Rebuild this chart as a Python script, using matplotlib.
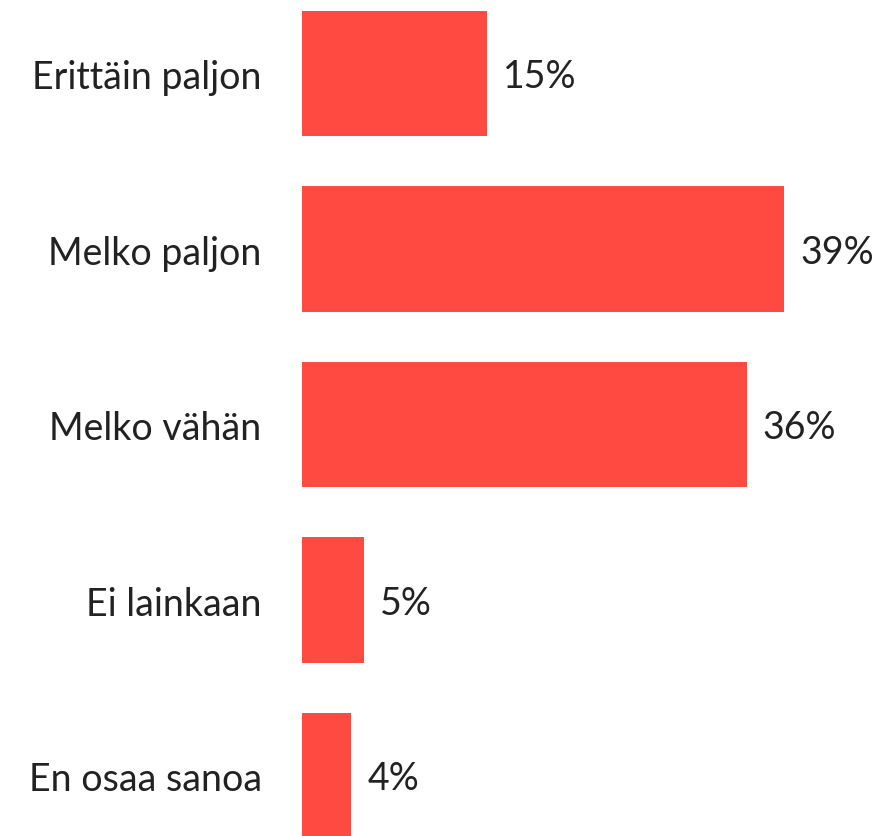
import matplotlib
matplotlib.use('Agg')
import matplotlib.pyplot as plt

categories = ['Erittäin paljon', 'Melko paljon', 'Melko vähän', 'Ei lainkaan', 'En osaa sanoa']
values = [15, 39, 36, 5, 4]
labels = ['15%', '39%', '36%', '5%', '4%']

W, H = 879, 837
fig = plt.figure(figsize=(W / 100, H / 100), dpi=100)
left_px = 302
px_per_pct = 12.36
ax = fig.add_axes([left_px / W, 0, 1 - left_px / W, 1])

pos = list(range(len(categories)))
ax.barh(pos, values, height=0.715, color='#FF4A42')
ax.set_xlim(0, (W - left_px) / px_per_pct)
ax.set_ylim(4.3447, -0.4245)

ax.set_yticks(pos)
ax.set_yticklabels(categories, fontsize=27, color='#222222', family='Lato')
ax.tick_params(axis='y', length=0, pad=29)
ax.set_xticks([])
for s in ax.spines.values():
    s.set_visible(False)

for p, v, lab in zip(pos, values, labels):
    ax.annotate(lab, (v, p), xytext=(11.5, -2), textcoords='offset points',
                va='center', ha='left', fontsize=27, color='#222222', family='Lato')

fig.savefig('out.png', dpi=100)
